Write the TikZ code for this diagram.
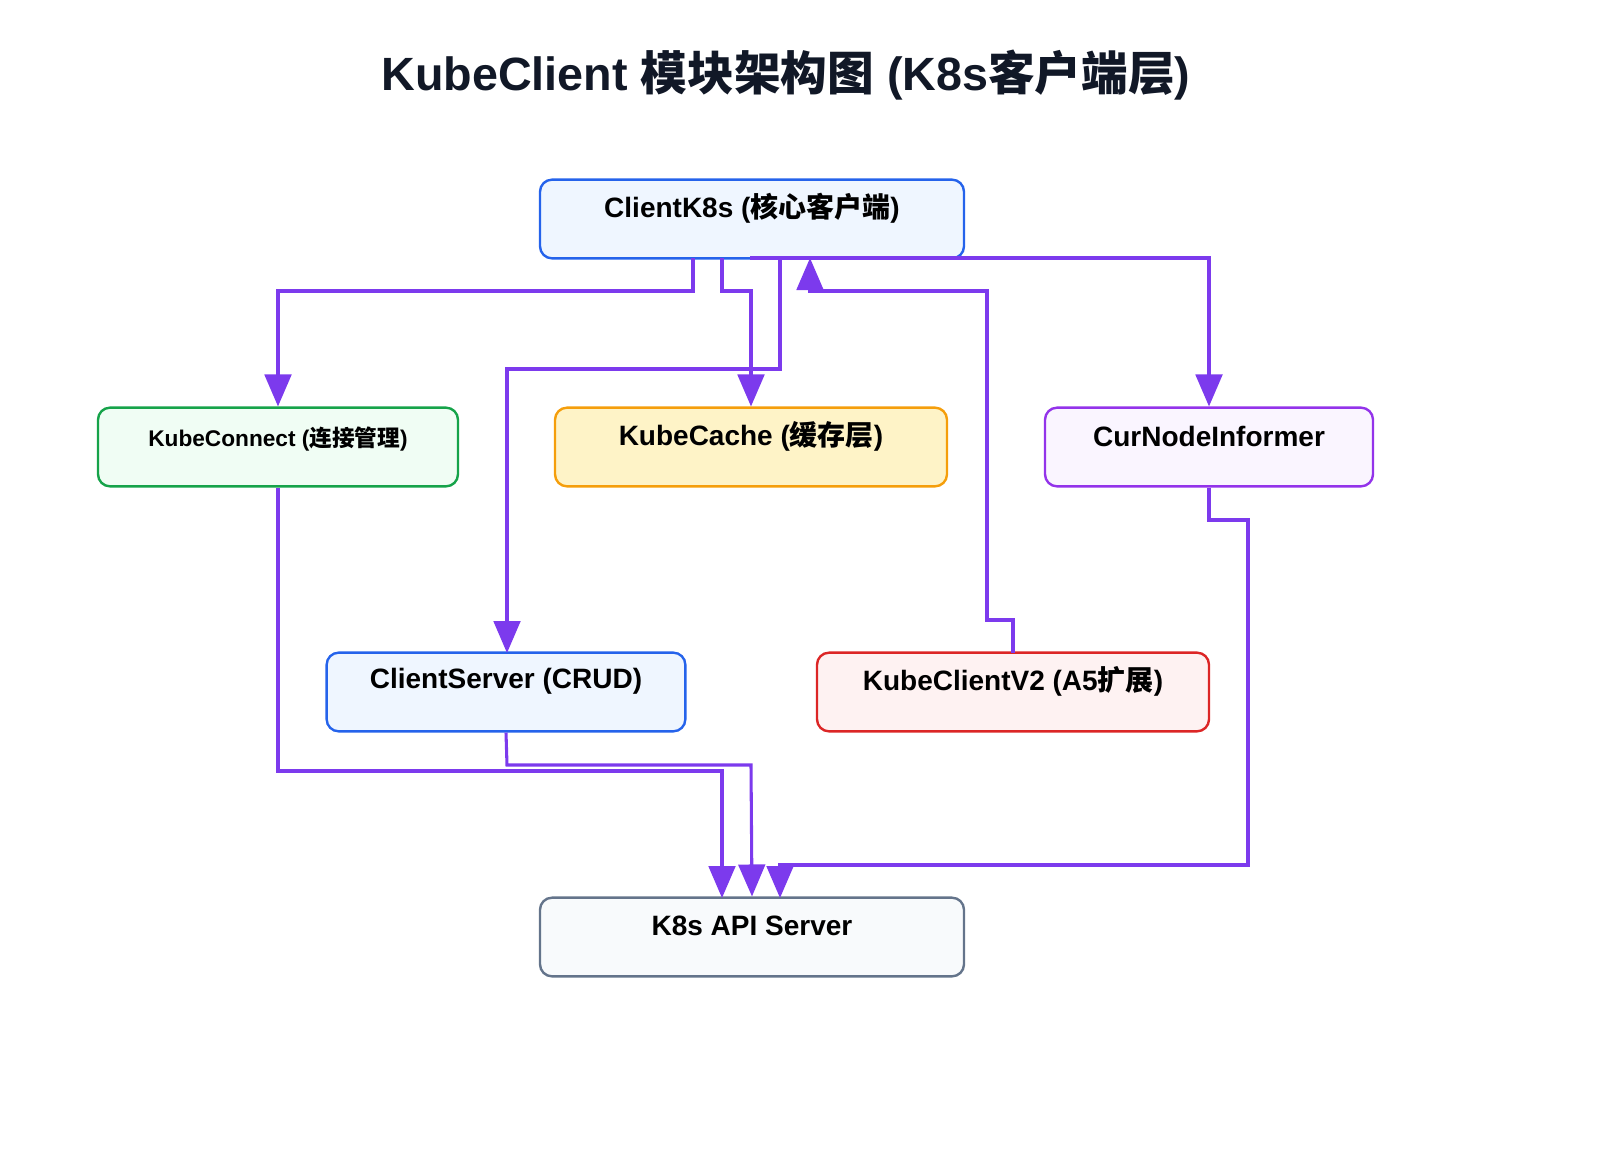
\documentclass[tikz,border=0pt]{standalone}
\usepackage{fontspec}
\setmainfont{Liberation Sans}
\newfontfamily\cjk{Noto Sans CJK SC}
\usetikzlibrary{arrows.meta}
\usetikzlibrary{positioning}
\definecolor{flowc}{HTML}{7C3AED}
\definecolor{inkc}{HTML}{111827}
\definecolor{blueln}{HTML}{2563EB}
\definecolor{bluefl}{HTML}{EFF6FF}
\definecolor{greenln}{HTML}{16A34A}
\definecolor{greenfl}{HTML}{F0FDF4}
\definecolor{orangeln}{HTML}{F59E0B}
\definecolor{orangefl}{HTML}{FEF3C7}
\definecolor{purpleln}{HTML}{9333EA}
\definecolor{purplefl}{HTML}{FAF5FF}
\definecolor{redln}{HTML}{DC2626}
\definecolor{redfl}{HTML}{FEF2F2}
\definecolor{grayln}{HTML}{64748B}
\definecolor{grayfl}{HTML}{F8FAFC}
\tikzstyle{box} = [draw, rounded corners=9pt, line width=1.8pt, minimum width=#1, minimum height=59pt]
\tikzstyle{flow} = [draw=flowc, line width=2.3pt, -{Triangle[length=24pt, width=20pt]}]
\begin{document}
\begin{tikzpicture}[x=0.75pt, y=-0.75pt, font=\bfseries\color{inkc}]
	\node [name=title, font=\fontsize{35}{40}\bfseries\selectfont\color{inkc}] at (786,75) {KubeClient {\cjk 模块架构图} (K8s{\cjk 客户端层})};

	% boxes
	\node [box=318pt, draw=blueln, fill=bluefl, name=ck, label={[yshift=8pt, font=\fontsize{21}{24}\bfseries\selectfont]center:ClientK8s ({\cjk 核心客户端})}] at (752,219) {};
	\node [box=270pt, draw=greenln, fill=greenfl, name=kconn, label={[yshift=6pt, font=\fontsize{17}{20}\bfseries\selectfont]center:KubeConnect ({\cjk 连接管理})}] at (278,447) {};
	\node [box=294pt, draw=orangeln, fill=orangefl, name=kcache, label={[yshift=8pt, font=\fontsize{21}{24}\bfseries\selectfont]center:KubeCache ({\cjk 缓存层})}] at (751,447) {};
	\node [box=246pt, draw=purpleln, fill=purplefl, name=cni, label={[yshift=8pt, font=\fontsize{21}{24}\bfseries\selectfont]center:CurNodeInformer}] at (1209,447) {};
	\node [box=269pt, draw=blueln, fill=bluefl, name=cs, label={[yshift=8pt, font=\fontsize{21}{24}\bfseries\selectfont]center:ClientServer (CRUD)}] at (506,692) {};
	\node [box=294pt, draw=redln, fill=redfl, name=kv2, label={[yshift=8pt, font=\fontsize{21}{24}\bfseries\selectfont]center:KubeClientV2 (A5{\cjk 扩展})}] at (1013,692) {};
	\node [box=318pt, draw=grayln, fill=grayfl, name=api, label={[yshift=8pt, font=\fontsize{21}{24}\bfseries\selectfont]center:K8s API Server}] at (752,937) {};

	% connectors
	\draw [flow] (693,258) -- (693,291) -- (278,291) -- (kconn.north);
	\draw [flow] (722,258) -- (722,291) -- (751,291) -- (kcache.north);
	\draw [flow] (780,258) -- (780,369) -- (507,369) -- (507,653);
	\draw [flow] (750,258) -- (1209,258) -- (cni.north);
	\draw [flow] (1013,653) -- (1013,620) -- (987,620) -- (987,291) -- (810,291) -- (810,258);
	\draw [flow] (kconn.south) -- (278,771) -- (722,771) -- (722,898);
	\draw [flow] (cs.south) -- (507,765) -- (751,765) -- (api.north);
	\draw [flow] (cni.south) -- (1209,520) -- (1248,520) -- (1248,865) -- (780,865) -- (780,898);

	\pgfresetboundingbox
	\useasboundingbox (0,0) rectangle (1600,1167);
\end{tikzpicture}
\end{document}
